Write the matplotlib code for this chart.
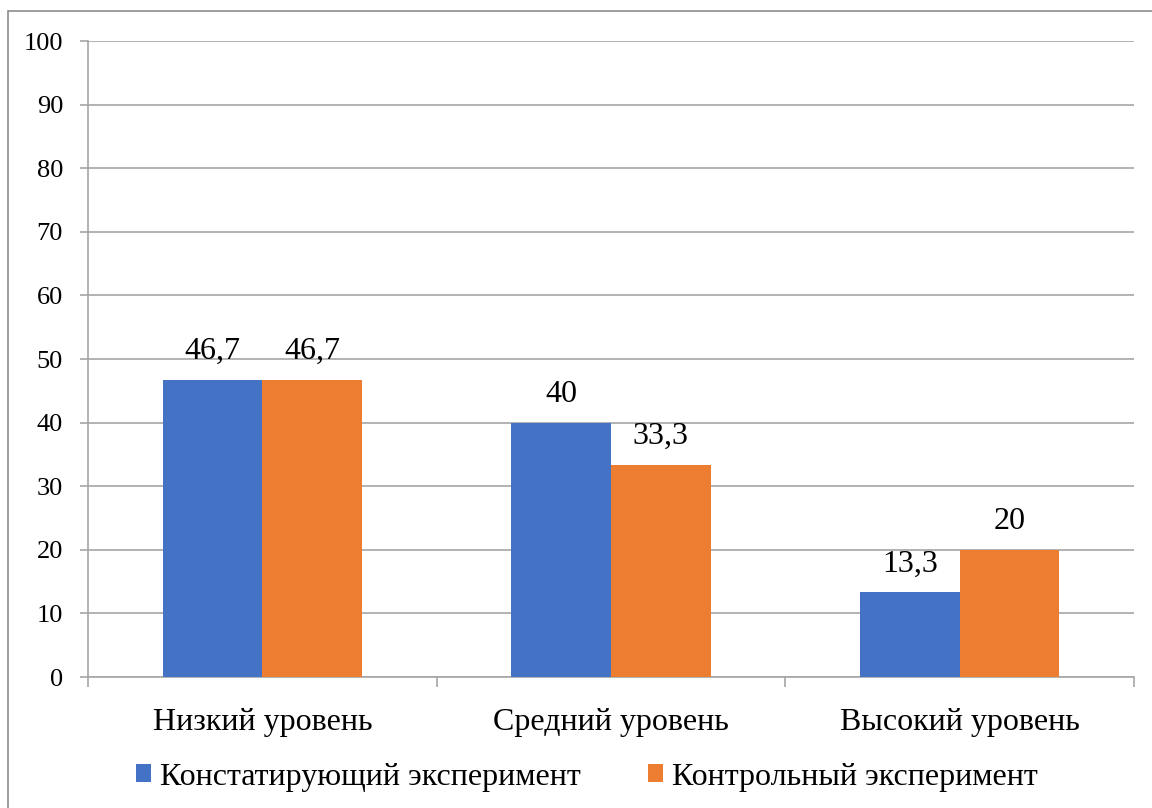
import matplotlib
matplotlib.use("Agg")
import matplotlib.pyplot as plt
import numpy as np
from matplotlib.patches import Rectangle

categories = ["Низкий уровень", "Средний уровень", "Высокий уровень"]
series_names = ["Констатирующий эксперимент", "Контрольный эксперимент"]
constat = [46.7, 40, 13.3]
control = [46.7, 33.3, 20]
value_labels_constat = ["46,7", "40", "13,3"]
value_labels_control = ["46,7", "33,3", "20"]
colors = ["#4472C4", "#ED7D31"]

plt.rcParams['font.family'] = ['Liberation Serif', 'DejaVu Serif']

fig = plt.figure(figsize=(11.52, 8.08), dpi=100)
ax = fig.add_axes([88/1152, 1-677/808, (1134-88)/1152, (677-41)/808])

# figure border
fig.patches.append(Rectangle((8/1152, -0.1), 1.2, 1-11/808+0.1, transform=fig.transFigure,
                             fill=False, edgecolor="#8c8c8c", linewidth=1.2, zorder=0))

x = np.arange(len(categories))
w = 0.2857
b1 = ax.bar(x - w/2, constat, width=w, color=colors[0], label=series_names[0], zorder=3)
b2 = ax.bar(x + w/2, control, width=w, color=colors[1], label=series_names[1], zorder=3)

for bars, labs in ((b1, value_labels_constat), (b2, value_labels_control)):
    for rect, lab in zip(bars, labs):
        ax.annotate(lab, (rect.get_x() + rect.get_width()/2, rect.get_height()),
                    xytext=(0, 10), textcoords="offset points", ha="center", va="bottom",
                    fontsize=23, color="black")

ax.set_xlim(-0.5, 2.5)
ax.set_ylim(0, 100)
ax.set_yticks(np.arange(0, 101, 10))
ax.yaxis.grid(True, color="#a6a6a6", linewidth=1.2, zorder=0)
ax.set_axisbelow(True)

for s in ["top", "right"]:
    ax.spines[s].set_visible(False)
ax.spines["left"].set_color("#a6a6a6")
ax.spines["bottom"].set_color("#a6a6a6")
ax.spines["left"].set_linewidth(1.2)
ax.spines["bottom"].set_linewidth(1.2)

ax.tick_params(axis="y", length=6, color="#a6a6a6", width=1.2, labelsize=19, pad=12)
ax.set_xticks(x)
ax.set_xticklabels(categories, fontsize=23)
ax.tick_params(axis="x", length=0, pad=22)
ax.set_xticks([-0.5, 0.5, 1.5, 2.5], minor=True)
ax.tick_params(axis="x", which="minor", length=7, color="#a6a6a6", width=1.2)

leg = fig.legend(loc="center", bbox_to_anchor=(0.5 + 11/1152, 1-777/808), ncol=2, frameon=False,
                 fontsize=23, handlelength=0.47, handleheight=0.47, handletextpad=0.3,
                 columnspacing=2.09)

fig.savefig("out.png", dpi=100)
